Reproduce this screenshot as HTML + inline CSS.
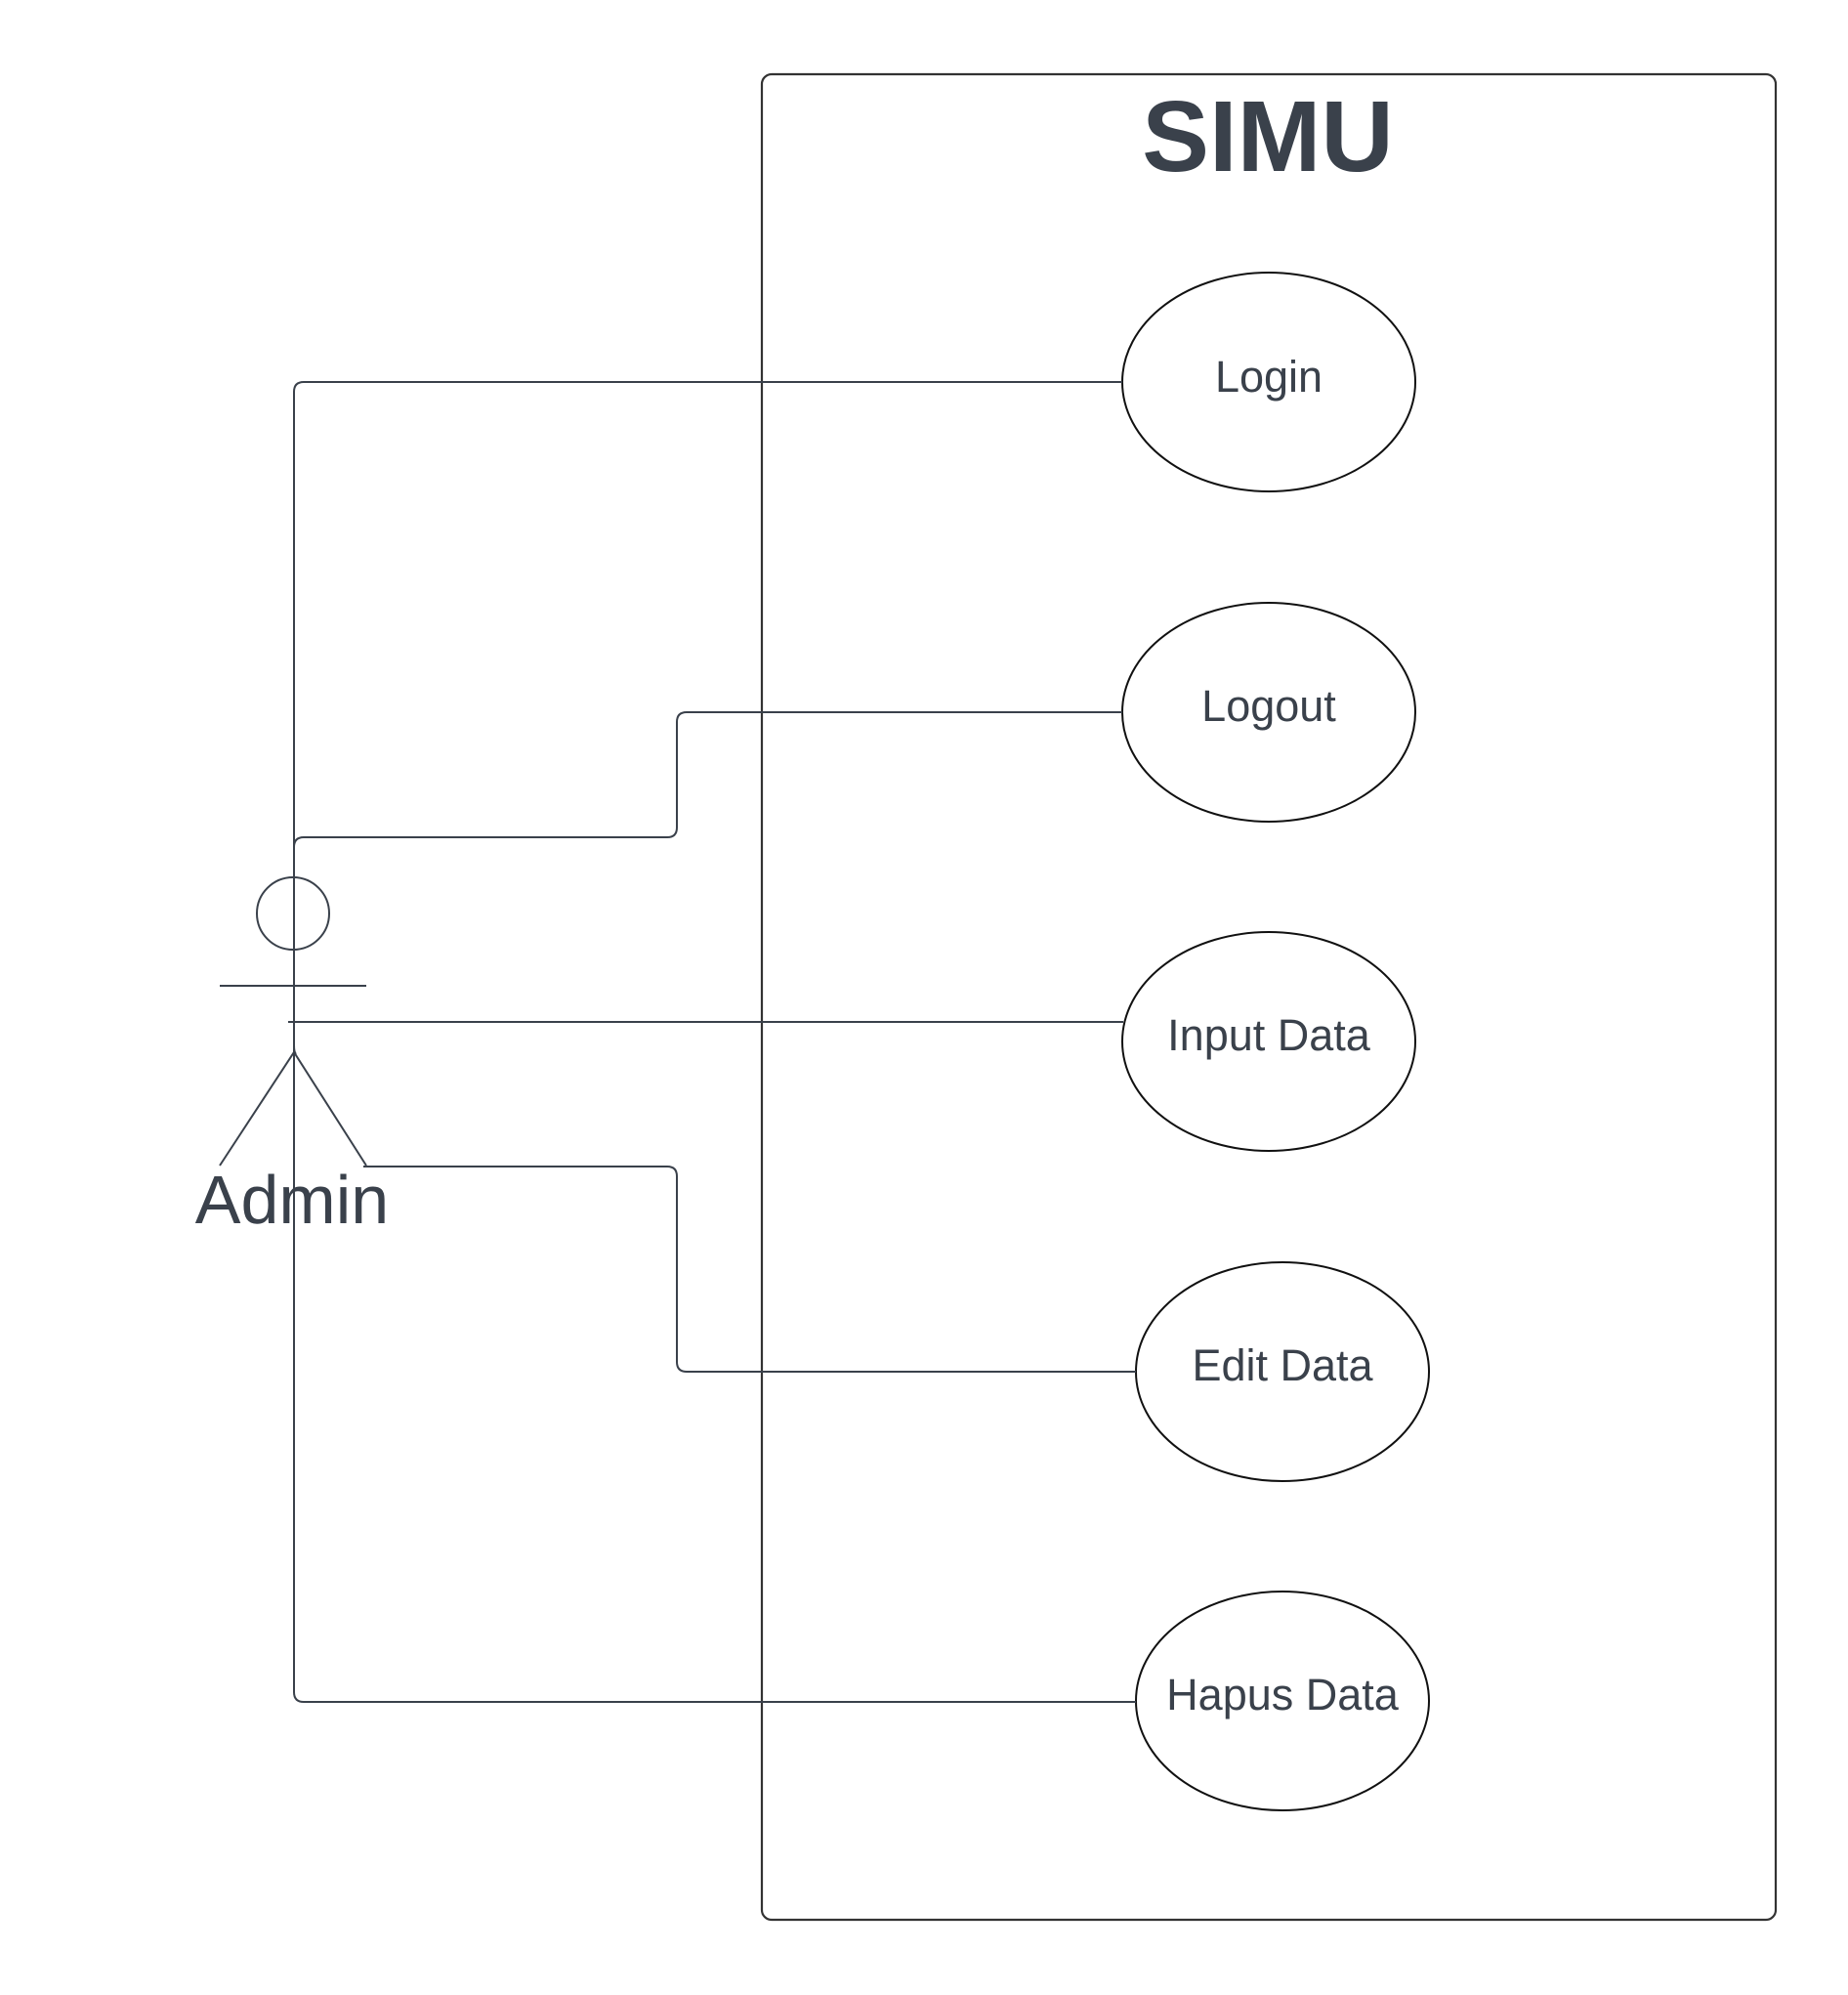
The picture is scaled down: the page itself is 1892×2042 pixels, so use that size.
<!DOCTYPE html>
<html><head><meta charset="utf-8"><style>
html,body{margin:0;padding:0;background:#fff;}
svg{display:block;}
text{font-family:"Liberation Sans",sans-serif;fill:#3a414b;}
</style></head><body>
<svg width="1892" height="2042" viewBox="0 0 1892 2042" xmlns="http://www.w3.org/2000/svg">
<rect x="780" y="76" width="1038" height="1889" rx="10" ry="10" fill="none" stroke="#333" stroke-width="2.2"/>
<text x="1298" y="175" font-size="103" font-weight="bold" text-anchor="middle">SIMU</text>
<g fill="none" stroke="#111" stroke-width="2">
<ellipse cx="1299" cy="391" rx="150" ry="112"/>
<ellipse cx="1299" cy="729" rx="150" ry="112"/>
<ellipse cx="1299" cy="1066" rx="150" ry="112"/>
<ellipse cx="1313" cy="1404" rx="150" ry="112"/>
<ellipse cx="1313" cy="1741" rx="150" ry="112"/>
</g>
<g font-size="45" text-anchor="middle">
<text x="1299" y="401">Login</text>
<text x="1299" y="738">Logout</text>
<text x="1299" y="1075">Input Data</text>
<text x="1313" y="1413">Edit Data</text>
<text x="1313" y="1750">Hapus Data</text>
</g>
<g fill="none" stroke="#3a414b" stroke-width="2">
<path d="M1149 391 H311 Q301 391 301 401 V1732 Q301 1742 311 1742 H1163"/>
<path d="M301 867 Q301 857 311 857 H683 Q693 857 693 847 V739 Q693 729 703 729 H1149"/>
<path d="M295 1046 H1150"/>
<path d="M372 1194 H683 Q693 1194 693 1204 V1394 Q693 1404 703 1404 H1163"/>
<circle cx="300" cy="935" r="37"/>
<path d="M225 1009 H375"/>
<path d="M301 972 V1070 Q301 1077 303 1079"/>
<path d="M225 1193 L301 1077 L375 1193"/>
</g>
<text x="299" y="1252" font-size="70" text-anchor="middle">Admin</text>
</svg>
</body></html>
